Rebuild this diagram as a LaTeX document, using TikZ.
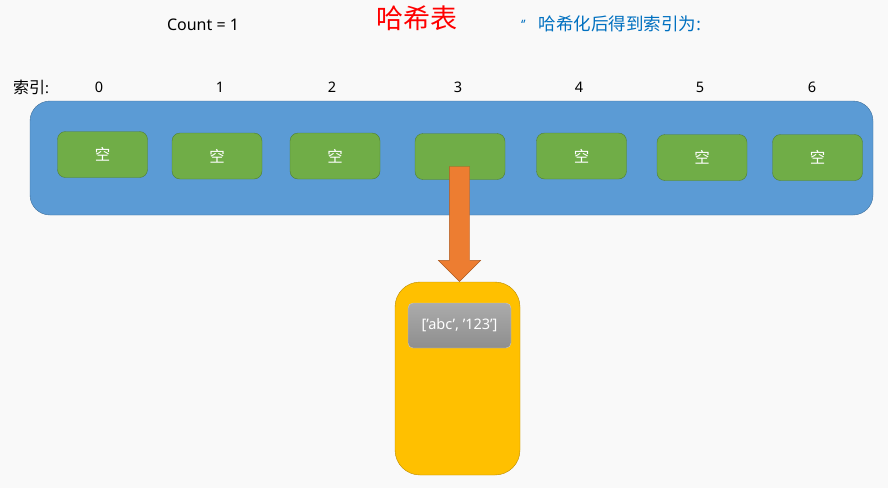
\documentclass[tikz,border=0pt]{standalone}
\usepackage{fontspec}
\setmainfont{Noto Sans}
\newfontfamily\cjk{Noto Sans CJK SC}
\usetikzlibrary{shapes.arrows}
\definecolor{bg}{HTML}{F9F9F9}
\definecolor{tablefill}{HTML}{5B9BD5}
\definecolor{tableline}{HTML}{41719C}
\definecolor{slotfill}{HTML}{70AD47}
\definecolor{slotline}{HTML}{507E32}
\definecolor{bucketfill}{HTML}{FFC000}
\definecolor{bucketline}{HTML}{BC8C00}
\definecolor{entrytop}{HTML}{ABABAB}
\definecolor{entrybot}{HTML}{8E8E8E}
\definecolor{entryline}{HTML}{C8C8C8}
\definecolor{arrowfill}{HTML}{ED7D31}
\definecolor{arrowline}{HTML}{AE5A21}
\definecolor{notecol}{HTML}{0070C0}
\begin{document}
\begin{tikzpicture}[x=1pt,y=-1pt,
    slot/.style={draw=slotline,fill=slotfill,rounded corners=8pt,minimum width=90pt,minimum height=46pt,inner sep=0,text=white,font=\cjk\fontsize{15.5}{16}\selectfont},
    idx/.style={font=\fontsize{14.5}{15}\selectfont}]
  \fill[bg] (0,0) rectangle (888,488);
  \useasboundingbox (0,0) rectangle (888,488);
  \node[font=\fontsize{16}{16}\selectfont] (count) at (203,25) {Count = 1};
  \node[font=\cjk\fontsize{27}{27}\selectfont,text=red] (title) at (417,18) {哈希表};
  \node[font=\fontsize{13}{13}\selectfont,text=notecol,anchor=west,inner sep=0] (note) at (521,24) {‘’\hspace{13pt}\raisebox{-1pt}{\cjk\fontsize{17.5}{18}\selectfont 哈希化后得到索引为}\raisebox{-1pt}{\fontsize{17}{17}\selectfont :}};
  \node[idx] (lbl) at (31,87) {{\cjk\fontsize{16}{16}\selectfont 索引}:};
  \node[draw=tableline,fill=tablefill,rounded corners=20pt,minimum width=843pt,minimum height=114pt,inner sep=0] (table) at (451.5,158) {};
  \node[slot] (b0) at (102.5,154.5) {空};
  \node[slot] (b1) at (217,156) {空};
  \node[slot] (b2) at (335,156) {空};
  \node[slot] (b3) at (460,156.5) {};
  \node[slot] (b4) at (581.5,156) {空};
  \node[slot] (b5) at (702,157.5) {空};
  \node[slot] (b6) at (817.5,157.5) {空};
  \node[idx] (i0) at (99,87) {0};
  \node[idx] (i1) at (220,87) {1};
  \node[idx] (i2) at (332,87) {2};
  \node[idx] (i3) at (458,87) {3};
  \node[idx] (i4) at (579,87) {4};
  \node[idx] (i5) at (700,87) {5};
  \node[idx] (i6) at (812,87) {6};
  \node[draw=bucketline,fill=bucketfill,rounded corners=25pt,minimum width=125pt,minimum height=193pt,inner sep=0] (bucket) at (457.5,378.5) {};
  \node[draw=entryline,top color=entrytop,bottom color=entrybot,rounded corners=5pt,minimum width=103pt,minimum height=45pt,inner sep=0,text=white,font=\fontsize{14.5}{15}\selectfont] (entry) at (459.5,325.5) {['abc', '123']};
  \node[single arrow,shape border rotate=270,draw=arrowline,fill=arrowfill,minimum height=115pt,inner xsep=10pt,inner ysep=0,single arrow head extend=11pt,single arrow tip angle=90,anchor=tip] (pointer) at ([xshift=2pt]bucket.north) {};
\end{tikzpicture}
\end{document}
